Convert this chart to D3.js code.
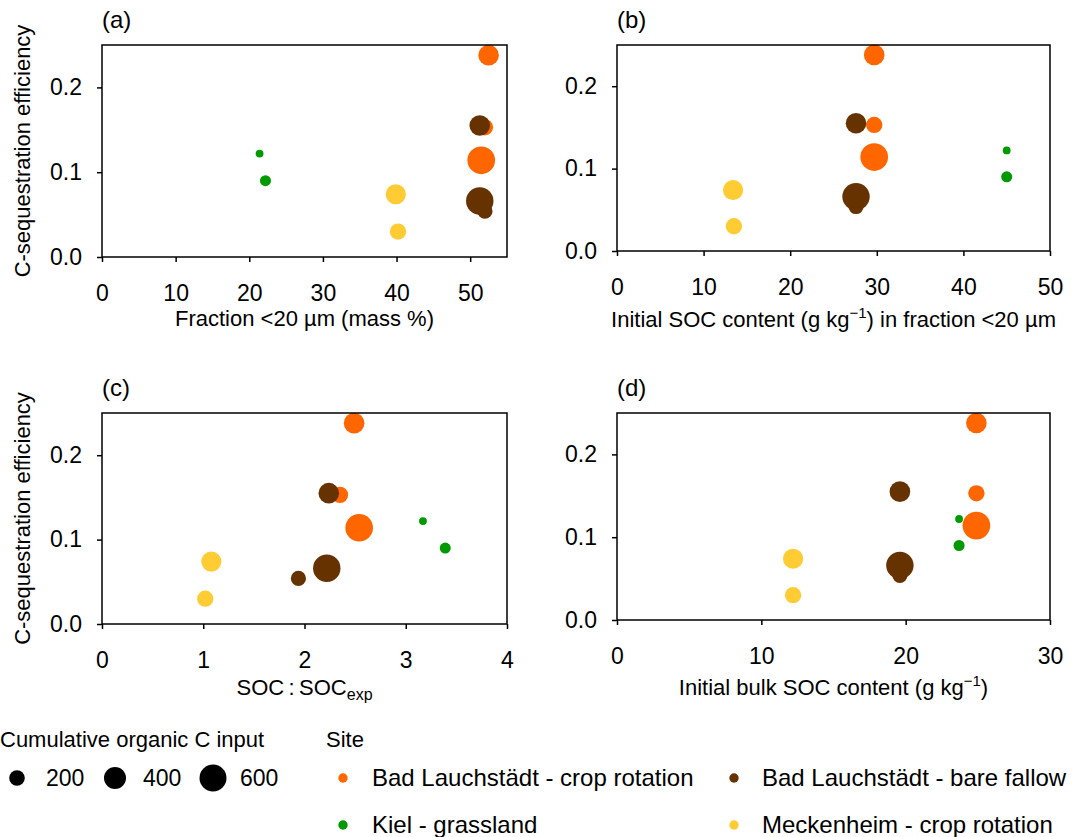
<!DOCTYPE html>
<html>
<head>
<meta charset="utf-8">
<script src="https://cdn.jsdelivr.net/npm/d3@7"></script>
<style>
  body { margin: 0; background: #fff; }
  text { font-family: "Liberation Sans", Arial, sans-serif; fill: #000; }
</style>
</head>
<body>
<div id="my_dataviz"></div>
<script>
// ---- data, one entry per plot/treatment ----
var site        = ["BLcr", "BLcr", "BLcr", "BLbf", "BLbf", "BLbf", "Kiel", "Kiel", "Meck", "Meck"];
var efficiency  = [0.238, 0.153, 0.114, 0.155, 0.066, 0.054, 0.122, 0.090, 0.074, 0.030];
var cInput      = [350, 220, 630, 350, 620, 190, 50, 100, 335, 220];
var fraction20  = [52.5, 52.0, 51.5, 51.3, 51.3, 52.0, 21.4, 22.2, 39.9, 40.2];
var socFraction = [29.7, 29.7, 29.7, 27.6, 27.6, 27.6, 45.0, 45.0, 13.4, 13.5];
var socRatio    = [2.49, 2.35, 2.54, 2.24, 2.22, 1.94, 3.17, 3.39, 1.08, 1.02];
var socBulk     = [24.9, 24.9, 24.9, 19.6, 19.6, 19.6, 23.7, 23.7, 12.2, 12.2];

var siteKeys   = ["BLcr", "BLbf", "Kiel", "Meck"];
var siteNames  = ["Bad Lauchstädt - crop rotation", "Bad Lauchstädt - bare fallow", "Kiel - grassland", "Meckenheim - crop rotation"];
var siteColors = ["#ff6600", "#663300", "#009900", "#ffcc33"];
var sizeLegend = [200, 400, 600];
var yTicks = [0, 0.1, 0.2];

var W = 1072, H = 837;
var font = '"Liberation Sans", Arial, sans-serif';

var svg = d3.select("#my_dataviz")
  .append("svg")
    .attr("width", W)
    .attr("height", H);

var color = d3.scaleOrdinal().domain(siteKeys).range(siteColors);
var z = d3.scaleSqrt().domain([0, 600]).range([0, 13.5]);

var points = site.map(function(s, i) {
  return { site: s, eff: efficiency[i], c: cInput[i],
           a: fraction20[i], b: socFraction[i], c2: socRatio[i], d: socBulk[i] };
});

var panels = [
  { key: "a", label: "(a)", domain: [0, 55], ticks: [0, 10, 20, 30, 40, 50],
    left: 102, right: 507, top: 45, bottom: 257, titleY: 326, yTitle: true },
  { key: "b", label: "(b)", domain: [0, 50], ticks: [0, 10, 20, 30, 40, 50],
    left: 617, right: 1050, top: 45, bottom: 251, titleY: 327, yTitle: false },
  { key: "c2", label: "(c)", domain: [0, 4], ticks: [0, 1, 2, 3, 4],
    left: 102, right: 507, top: 413, bottom: 624, titleY: 695, yTitle: true },
  { key: "d", label: "(d)", domain: [0, 30], ticks: [0, 10, 20, 30],
    left: 617, right: 1050, top: 413, bottom: 620, titleY: 695, yTitle: false }
];

panels.forEach(function(p) {
  var x = d3.scaleLinear().domain(p.domain).range([p.left, p.right]);
  var y = d3.scaleLinear().domain([0, 0.25]).range([p.bottom, p.top]);

  // x axis
  var gx = svg.append("g")
    .attr("transform", "translate(0," + p.bottom + ")")
    .call(d3.axisBottom(x).tickValues(p.ticks).tickSize(5).tickPadding(23).tickFormat(d3.format("d")));
  // y axis
  var gy = svg.append("g")
    .attr("transform", "translate(" + p.left + ",0)")
    .call(d3.axisLeft(y).tickValues(yTicks).tickSize(5).tickPadding(15).tickFormat(d3.format(".1f")));
  [gx, gy].forEach(function(g) {
    g.select(".domain").remove();
    g.selectAll("line").attr("stroke", "#000").attr("stroke-width", 1.5);
    g.selectAll("text").attr("font-size", 23).attr("font-family", font).attr("fill", "#000");
  });

  // dots
  svg.append("g")
    .selectAll("circle")
    .data(points)
    .enter()
    .append("circle")
      .attr("cx", function(d) { return x(d[p.key]); })
      .attr("cy", function(d) { return y(d.eff); })
      .attr("r", function(d) { return z(d.c); })
      .style("fill", function(d) { return color(d.site); });

  // frame
  svg.append("rect")
    .attr("x", p.left).attr("y", p.top)
    .attr("width", p.right - p.left).attr("height", p.bottom - p.top)
    .attr("fill", "none").attr("stroke", "#000").attr("stroke-width", 1.5);

  // panel label
  svg.append("text")
    .attr("x", p.left).attr("y", p.top - 17)
    .attr("font-size", 24)
    .text(p.label);

  // y title
  if (p.yTitle) {
    svg.append("text")
      .attr("transform", "translate(30," + ((p.top + p.bottom) / 2) + ") rotate(-90)")
      .attr("text-anchor", "middle")
      .attr("font-size", 22)
      .text("C-sequestration efficiency");
  }

  // x title
  var t = svg.append("text")
    .attr("x", (p.left + p.right) / 2)
    .attr("y", p.titleY)
    .attr("text-anchor", "middle")
    .attr("font-size", 22);
  if (p.key == "a") {
    t.text("Fraction <20 µm (mass %)");
  } else if (p.key == "b") {
    t.append("tspan").text("Initial SOC content (g kg");
    t.append("tspan").attr("dy", -9).attr("font-size", 15).text("\u22121");
    t.append("tspan").attr("dy", 9).text(") in fraction <20 µm");
  } else if (p.key == "c2") {
    t.append("tspan").text("SOC\u2009:\u2009SOC");
    t.append("tspan").attr("dy", 5).attr("font-size", 16).text("exp");
  } else {
    t.append("tspan").text("Initial bulk SOC content (g kg");
    t.append("tspan").attr("dy", -9).attr("font-size", 15).text("\u22121");
    t.append("tspan").attr("dy", 9).text(")");
  }
});

// ---- legend: size ----
svg.append("text")
  .attr("x", 0).attr("y", 747)
  .attr("font-size", 22)
  .text("Cumulative organic C input");

svg.selectAll("sizedots")
  .data(sizeLegend)
  .enter()
  .append("circle")
    .attr("cx", function(d, i) { return 17 + i * 98; })
    .attr("cy", 778)
    .attr("r", function(d) { return z(d); })
    .style("fill", "#000");

svg.selectAll("sizelabels")
  .data(sizeLegend)
  .enter()
  .append("text")
    .attr("x", function(d, i) { return 46 + i * 97; })
    .attr("y", 786)
    .attr("font-size", 23)
    .text(function(d) { return d; });

// ---- legend: site ----
svg.append("text")
  .attr("x", 326).attr("y", 747)
  .attr("font-size", 22)
  .text("Site");

svg.selectAll("sitedots")
  .data(siteKeys)
  .enter()
  .append("circle")
    .attr("cx", function(d, i) { return i % 2 == 0 ? 343 : 734; })
    .attr("cy", function(d, i) { return 778 + Math.floor(i / 2) * 47; })
    .attr("r", 4.7)
    .style("fill", function(d) { return color(d); });

svg.selectAll("sitelabels")
  .data(siteKeys)
  .enter()
  .append("text")
    .attr("x", function(d, i) { return i % 2 == 0 ? 372 : 762; })
    .attr("y", function(d, i) { return 786 + Math.floor(i / 2) * 47; })
    .attr("font-size", 24)
    .text(function(d, i) { return siteNames[i]; });
</script>
</body>
</html>
